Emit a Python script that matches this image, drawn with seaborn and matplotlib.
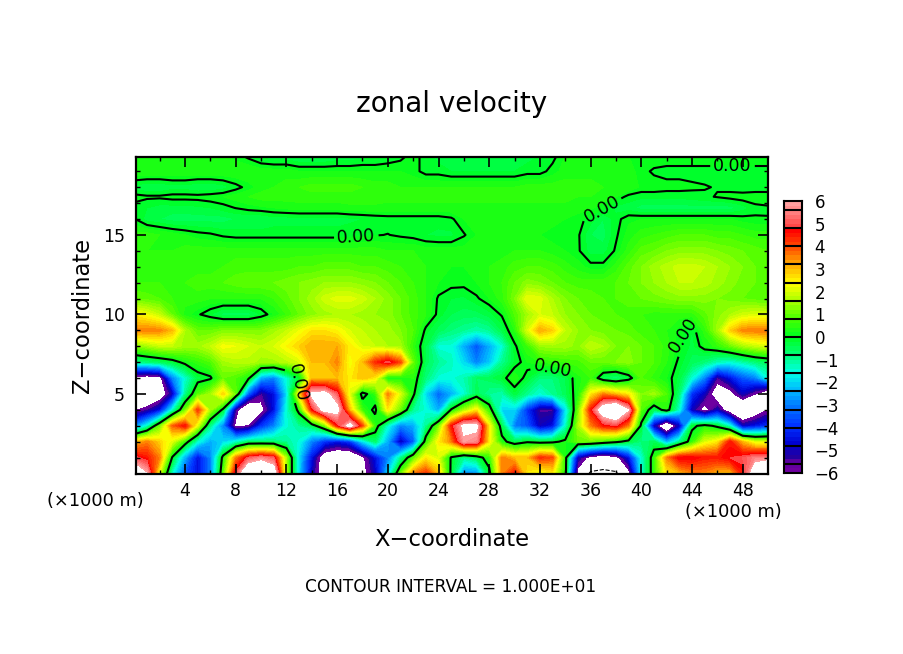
import numpy as np
import matplotlib
matplotlib.use("Agg")
import matplotlib.pyplot as plt
from matplotlib.colors import LinearSegmentedColormap
import seaborn as sns

# zonal velocity, one list per height, x = 0..50 km
x_km = list(range(51))
z_km = [0, 1, 2, 3, 4, 5, 6, 7, 8, 9, 10, 11, 12, 13, 14, 15, 16, 16.7, 17.4, 18, 19, 20]

u_z00 = [7.5, 6, 2, -1.5, -3.5, -4.5, -3, .8, 5, 7.5,
         8, 7, 1.5, -2, -5, -7, -8, -8, -6.5, -5,
         -2, 1, 3.5, 4.2, 3, -.2, -2.8, -2.8, -.3, 3.5,
         4.5, 2.5, 2, 2.5, .4, -6.5, -10.5, -11, -10.5, -6.5,
         -1.5, .5, 2.5, 3, 3.5, 3.5, 3, 3, 4.5, 7, 8]
u_z01 = [5, 4.5, 3.5, -.1, -2.5, -4.5, -3, .3, 3.5, 5,
         5.5, 5, 1.5, -2, -4.5, -7, -7.5, -7.5, -6.3, -4.5,
         -3, -1, .8, 2.5, 2, -.1, -1, -.5, .5, 3.5,
         3, 3, 4.3, 4, .4, -5, -6.5, -7, -6.5, -4.5,
         -1.5, .5, 3.5, 4.8, 4.8, 4.5, 4.5, 4.8, 5, 5.5, 5.5]
u_z02 = [2.8, 3.5, 2.8, 2, .5, -1.5, -2.5, -2, -1.5, -.7,
         -.7, -.7, -1, -1.5, -3, -4, -4.5, -4, -2, -.7,
         -2.5, -5, -3.5, .5, 2.5, 3.5, 5.8, 5.5, 2.5, .3,
         -.5, -.1, -.3, -.2, .2, 1, 1, .6, .2, -.3,
         -.8, -.5, -2.5, -1, .5, 2, 2.5, 4.5, 3, 2, 2]
u_z03 = [-3, -1.5, 1, 3.8, 4.6, 2, -1, -3, -6.3, -6,
         -4, -3, -1.5, -1, -.5, 1, 4.5, 6.5, 4, .5,
         -1.5, -3, -2.5, -1, 1, 4.5, 6.3, 6.3, 2.5, -.5,
         -3, -3.5, -5, -4.5, -1.5, 1.5, 3.5, 4.5, 4.8, 3.5,
         -.2, -5, -8, -5, -.2, .3, -.2, -1.5, -5, -4.5, -4]
u_z04 = [-6.2, -5.5, -4.5, -1.5, 1, 4.2, 1.5, -.2, -5.5, -8,
         -6.5, -4.5, -1.5, .3, 4.5, 6.5, 6.5, 3, .6, -.2,
         2.5, 1, -1, -1.5, -2.5, .1, 1.5, 2.5, .5, -2,
         -2, -4, -5.5, -5.5, -2, 1, 4.5, 7, 8, 6,
         .8, -.6, .4, -1.5, -5, -6.5, -5, -7, -8, -7, -6]
u_z05 = [-7, -8, -7, -5, -1, .8, 1.5, 2.8, 1, -3.5,
         -5.5, -4.5, -2, 2.5, 6.3, 6.5, 5, 2, -.3, .5,
         3.5, 2, .2, -2, -3.3, -2.5, -1.5, -.5, -1, -1.2,
         -.3, -1, -1.5, -1, -.5, .3, 2.5, 3.5, 3, 2.5,
         1.2, 1.5, .8, -.8, -4, -5, -7, -6.5, -5, -6, -7.5]
u_z06 = [-6.5, -6.8, -6.5, -3, -1.5, -.3, -.1, 1, .8, .2,
         -2.5, -3, -1.5, -.2, 3, 2.8, 3, 2.5, 3, 2.5,
         .1, .3, .4, -.8, -1.5, -1.5, -1.2, -.6, -.5, -.2,
         .4, -.2, -.8, -.8, -.4, .3, .6, -.5, -.8, -.3,
         .8, .5, .2, -.3, -1.5, -3, -5.5, -4.5, -3.5, -3, -1.5]
u_z07 = [-1, -.8, -.6, -.3, .2, .5, .8, 1.5, 1.7, 1.7,
         1.5, 1.5, 1.7, 2, 3, 3, 3.5, 2.2, 3, 4.3,
         5, 4, 1, -.5, -1, -1.3, -2, -3, -2.2, -1,
         -.2, .2, .4, .5, .6, .7, 1, 1, 1.2, 1.3,
         1, .8, .4, -.1, -.5, -.8, -1.3, -1.5, -1.2, -.8, -.6]
u_z08 = [1.2, 1.5, 1.8, 1.8, 1.5, 1.5, 1.8, 2.3, 2.2, 2,
         1.8, 2, 2.4, 2.8, 3.2, 3.2, 3.2, 2.5, 2, 1.8,
         1.6, 1.5, .5, -.4, -1.5, -1.5, -2.5, -3.5, -2.5, -1.5,
         -.1, .6, 1.4, 1.5, 1.5, 1.3, 1.8, 1.6, 1.2, 1.2,
         1, .8, .5, .1, -.3, .2, .5, 1, 1.5, 1.8, 2]
u_z09 = [3.5, 3.6, 3.5, 3, 1.6, 1, 1, 1.2, 1.2, 1.2,
         1.2, 1.5, 1.8, 2.2, 2.6, 2.6, 2.4, 2, 1.8, 1.6,
         1.5, 1.2, .8, -.1, -.5, -.8, -1, -1.2, -1, -.4,
         .4, 2, 3.2, 2.8, 1.8, 1.4, 1.2, 1.1, 1, .9,
         .7, .6, .4, .1, -.2, .5, 1.5, 2.8, 3.5, 3.6, 3.6]
u_z10 = [2.5, 2.2, 1.8, 1, .3, .05, -.2, -.5, -.5, -.5,
         -.2, .2, .6, 1, 1.3, 1.5, 1.6, 1.6, 1.5, 1.4,
         1.3, 1, .7, .4, -.1, -.4, -.5, -.5, -.3, .05,
         .8, 1.5, 2, 1.8, 1.4, 1.2, 1, .9, .8, .7,
         .6, .5, .5, .5, .5, .9, 1.3, 1.6, 1.9, 2, 2]
u_z11 = [1, .9, .8, .6, .5, .5, .4, .4, .4, .4,
         .4, .6, .9, 1.2, 1.5, 1.9, 2.1, 2.1, 1.9, 1.6,
         1.3, 1, .7, .4, -.05, -.2, -.25, -.05, .2, .5,
         1.2, 2.2, 2.1, 1.6, 1.2, 1, .9, .8, .8, .9,
         1, 1.1, 1.2, 1.3, 1.3, 1.3, 1.2, 1.1, 1, .9, .8]
u_z12 = [.6, .6, .6, .6, .6, .7, .7, .8, .9, 1,
         1, 1, 1.1, 1.2, 1.3, 1.4, 1.4, 1.4, 1.3, 1.2,
         1, .8, .6, .4, .2, .1, .1, .2, .4, .6,
         1, 1.3, 1.2, 1, .8, .7, .7, .7, .8, 1,
         1.2, 1.4, 1.6, 1.8, 1.8, 1.7, 1.5, 1.3, 1.1, 1, .9]
u_z13 = [.5, .5, .5, .5, .5, .5, .5, .6, .7, .7,
         .7, .7, .7, .8, .8, .9, .9, .9, .8, .8,
         .7, .6, .5, .4, .3, .2, .2, .3, .4, .5,
         .7, .8, .8, .7, .5, .3, .1, .1, .5, .9,
         1.2, 1.5, 1.7, 1.9, 1.9, 1.8, 1.6, 1.4, 1.2, 1, .9]
u_z14 = [.4, .4, .4, .4, .5, .5, .5, .5, .5, .5,
         .5, .5, .5, .5, .5, .5, .5, .5, .5, .5,
         .4, .4, .4, .3, .3, .3, .3, .3, .3, .3,
         .4, .4, .4, .3, .2, .05, -.3, -.3, .05, .5,
         .9, 1, 1.2, 1.3, 1.3, 1.3, 1.2, 1.1, 1, .9, .8]
u_z15 = [.5, .5, .4, .3, .2, .1, .05, -.05, -.1, -.1,
         -.1, -.1, -.1, -.1, -.1, -.1, -.1, -.08, -.05, -.02,
         .01, -.05, -.1, -.2, -.25, -.25, -.03, .2, .2, .2,
         .2, .2, .2, .1, .05, .05, -.4, -.5, -.05, .3,
         .5, .6, .7, .8, .8, .8, .7, .7, .6, .5, .5]
u_z16 = [.02, -.3, -.4, -.5, -.5, -.5, -.5, -.5, -.4, -.4,
         -.4, -.3, -.3, -.3, -.3, -.3, -.3, -.25, -.2, -.15,
         -.12, -.12, -.12, -.12, -.12, -.05, .2, .3, .3, .3,
         .3, .3, .3, .3, .2, .1, -.1, -.4, -.1, .15,
         .2, .2, .2, .2, .2, .2, .2, .2, .1, .05, .02]
u_z167 = [-.1, -.2, -.3, -.3, -.3, -.25, -.2, -.1, .01, .1,
          .15, .2, .25, .3, .3, .3, .3, .35, .35, .35,
          .35, .35, .35, .35, .35, .35, .35, .35, .35, .35,
          .35, .35, .35, .35, .35, .3, .25, .05, -.3, -.3,
          -.5, -.5, -.5, -.5, -.5, -.5, -.5, -.5, -.3, -.1, -.05]
u_z174 = [.1, .05, .05, .1, .1, .1, .15, .2, .3, .4,
          .5, .5, .5, .5, .5, .5, .5, .5, .5, .5,
          .45, .45, .45, .45, .45, .45, .45, .45, .45, .45,
          .45, .45, .45, .45, .45, .4, .4, .35, .2, -.1,
          -.15, -.15, -.15, -.15, -.1, -.05, .02, .1, .15, .2, .2]
u_z18 = [-.3, -.4, -.4, -.3, -.3, -.4, -.4, -.3, -.1, .1,
         .3, .4, .5, .6, .7, .7, .7, .7, .6, .5,
         .5, .4, .4, .4, .4, .4, .4, .4, .4, .4,
         .4, .5, .5, .5, .5, .5, .5, .4, .4, .4,
         .15, .15, .1, .1, .05, .02, -.02, -.1, -.2, -.2, -.2]
u_z19 = [.4, .4, .4, .4, .4, .4, .4, .4, .4, .4,
         .3, .3, .3, .2, .2, .2, .2, .2, .2, .2,
         .2, .2, .1, -.1, -.1, -.2, -.2, -.2, -.2, -.2,
         -.2, -.1, -.1, .1, .3, .3, .3, .3, .3, .3,
         .1, -.05, -.1, -.1, -.1, -.1, -.1, -.1, -.1, -.1, -.1]
u_z20 = [.3, .3, .3, .3, .3, .3, .3, .2, .1, -.1,
         -.3, -.4, -.4, -.5, -.5, -.5, -.4, -.4, -.3, -.3,
         -.2, -.1, .1, -.1, -.3, -.3, -.3, -.4, -.4, -.4,
         -.4, -.3, -.2, -.1, .2, .3, .3, .3, .3, .2,
         .2, .2, .2, .2, .2, .2, .2, .2, .2, .2, .2]

u_rows = [u_z00, u_z01, u_z02, u_z03, u_z04, u_z05, u_z06, u_z07, u_z08, u_z09, u_z10,
          u_z11, u_z12, u_z13, u_z14, u_z15, u_z16, u_z167, u_z174, u_z18, u_z19, u_z20]

cbar_labels = ["6", "5", "4", "3", "2", "1", "0", "\u22121", "\u22122", "\u22123", "\u22124", "\u22125", "\u22126"]
zero_labels = [(17.5, 15.1), (47.2, 19.0), (36.9, 16.6), (33.0, 6.7), (13.2, 5.6), (43.3, 8.7)]

# colour stops taken from the colour bar
stop_vals = [-6, -5.6, -5.5, -4.8, -4, -3.2, -2.4, -1.6, -.8, 0, .8, 1.6, 2.4, 3.2, 4, 4.8, 4.9, 5.6, 6]
stop_cols = ["#6e00a0", "#5a00a0", "#2a0096", "#0000d0", "#0030ff", "#0070ff", "#00b8ff", "#00ffe6",
             "#00ff78", "#00ff20", "#48ff00", "#a8ff00", "#ffff00", "#ffb000", "#ff5000", "#ff0000",
             "#ff4040", "#ff8080", "#ffa0a0"]

W, H = 904, 654
sns.set_theme(style="ticks", rc={"axes.linewidth": 1.6, "text.color": "black", "xtick.color": "black",
                                 "ytick.color": "black", "axes.edgecolor": "black"})
plt.rcParams["font.family"] = ["DejaVu Sans"]

pos = [(v + 6) / 12 for v in stop_vals]
cmap = LinearSegmentedColormap.from_list("zonal", list(zip(pos, stop_cols)), N=60)
cmap.set_over("white")
cmap.set_under("white")

fig = plt.figure(figsize=(W / 100, H / 100), dpi=100, facecolor="white")
ax = fig.add_axes([136 / W, 1 - 473.5 / H, 632 / W, 316.5 / H])
cax = fig.add_axes([784 / W, 1 - 473 / H, 18 / W, 272 / H])

u = np.array(u_rows)
levels = np.arange(-6, 6.01, 0.2)
ax.contourf(x_km, z_km, u, levels=levels, cmap=cmap, extend="both", antialiased=False)
ax.contour(x_km, z_km, u, levels=[-10], colors="black", linewidths=0.8, linestyles="--")
zero_line = ax.contour(x_km, z_km, u, levels=[0], colors="black", linewidths=1.5, linestyles="-")
ax.clabel(zero_line, fmt="%.2f", fontsize=12.5, manual=zero_labels, inline_spacing=3)

ax.set_axisbelow(False)
ax.set_xlim(0.13, 50)
ax.set_ylim(0, 19.9)
ax.set_xticks(range(4, 50, 4))
ax.set_xticks(range(2, 50, 2), minor=True)
ax.set_yticks([5, 10, 15])
ax.set_yticks(range(1, 20), minor=True)
ax.tick_params(which="major", direction="in", length=7, width=1.2, top=True, right=True,
               labelsize=12.5, pad=6)
ax.tick_params(which="minor", direction="in", length=3, width=1, top=True, right=True)
ax.tick_params(axis="y", pad=8)

# colour bar: one column of the same 0.2 steps, black lines every 0.8
bar_vals = np.arange(5.9, -6, -0.2).reshape(-1, 1)
sns.heatmap(bar_vals, ax=cax, cmap=cmap, vmin=-6, vmax=6, cbar=False, xticklabels=False)
cax.hlines(np.arange(2, 60, 4), 0, 1, colors="black", linewidth=1.5)
for side in cax.spines.values():
    side.set_visible(True)
    side.set_linewidth(1.5)
cax.yaxis.tick_right()
cax.set_yticks(np.arange(0, 61, 5))
cax.set_yticklabels(cbar_labels, rotation=0, fontsize=12)
cax.tick_params(axis="y", length=0, pad=9)


def label(px, py, s, **kw):
    fig.text(px / W, 1 - py / H, s, ha=kw.pop("ha", "center"), va="center", **kw)


label(452, 104, "zonal velocity", fontsize=20)
label(452, 539, "X\u2212coordinate", fontsize=16.3)
label(83, 315, "Z\u2212coordinate", fontsize=16.3, rotation=90)
label(95, 501, "(\u00d71000 m)", fontsize=12.8)
label(733, 512, "(\u00d71000 m)", fontsize=12.8)
label(451, 587, "CONTOUR INTERVAL = 1.000E+01", fontsize=12.2)

fig.savefig("out.png", dpi=100)
